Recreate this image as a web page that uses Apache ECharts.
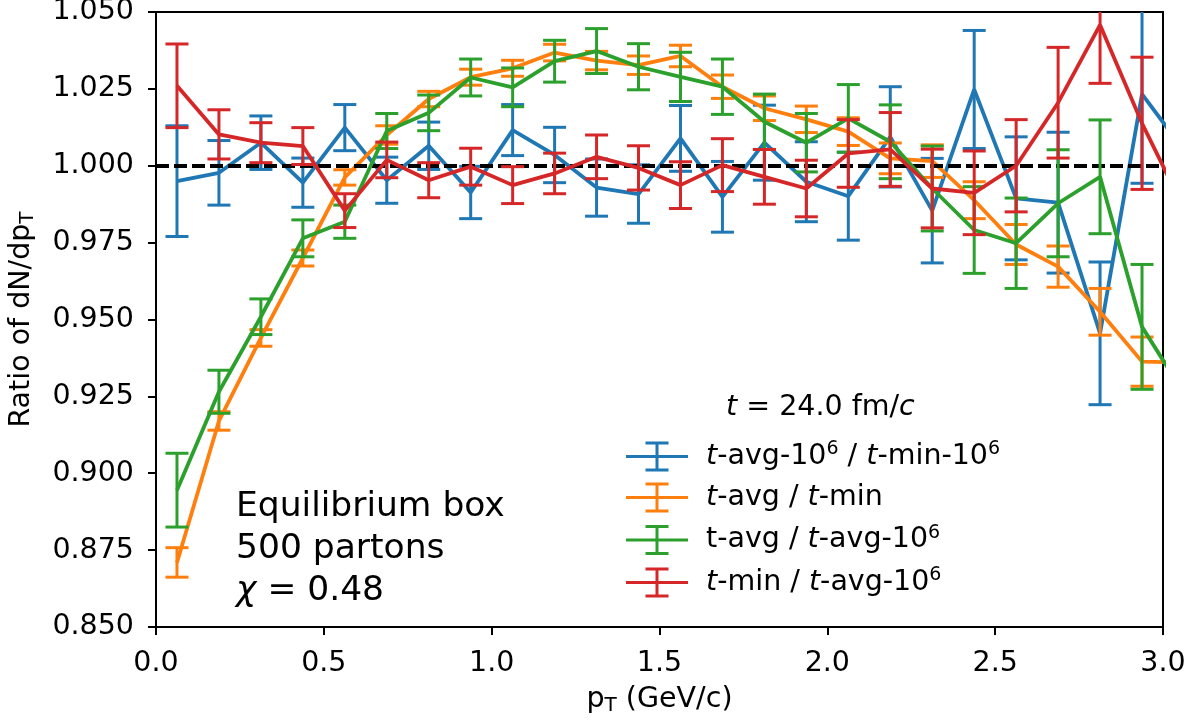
<!DOCTYPE html>
<html>
<head>
<meta charset="utf-8">
<script src="https://cdn.jsdelivr.net/npm/echarts@6/dist/echarts.min.js"></script>
<style>
html,body{margin:0;padding:0;background:#fff;}
#chart{width:1200px;height:721px;}
</style>
</head>
<body>
<div id="chart"></div>
<script>
// bin centres (GeV/c); the last one lies just beyond the axis and is clipped
var pt = [0.0625, 0.1875, 0.3125, 0.4375, 0.5625, 0.6875, 0.8125, 0.9375, 1.0625, 1.1875,
          1.3125, 1.4375, 1.5625, 1.6875, 1.8125, 1.9375, 2.0625, 2.1875, 2.3125, 2.4375,
          2.5625, 2.6875, 2.8125, 2.9375, 3.0625];

var blueVal = [0.9950, 0.9977, 1.0075, 0.9945, 1.0124, 0.9953, 1.0065, 0.9913, 1.0116, 1.0035,
               0.9929, 0.9908, 1.0089, 0.9899, 1.0075, 0.9948, 0.9901, 1.0094, 0.9854, 1.0248,
               0.9894, 0.9880, 0.9455, 1.0233, 1.0050];
var blueErr = [0.0180, 0.0105, 0.0087, 0.0080, 0.0075, 0.0075, 0.0077, 0.0085, 0.0083, 0.0090,
               0.0093, 0.0095, 0.0107, 0.0115, 0.0122, 0.0130, 0.0143, 0.0163, 0.0170, 0.0192,
               0.0200, 0.0229, 0.0232, 0.0290, 0.0300];

var orangeVal = [0.8710, 0.9170, 0.9440, 0.9700, 0.9962, 1.0100, 1.0217, 1.0288, 1.0317, 1.0368,
                 1.0342, 1.0327, 1.0357, 1.0257, 1.0187, 1.0151, 1.0111, 1.0024, 1.0015, 0.9888,
                 0.9744, 0.9672, 0.9525, 0.9363, 0.9360];
var orangeErr = [0.0048, 0.0030, 0.0027, 0.0026, 0.0025, 0.0030, 0.0025, 0.0026, 0.0026, 0.0027,
                 0.0030, 0.0030, 0.0035, 0.0038, 0.0040, 0.0043, 0.0045, 0.0050, 0.0053, 0.0060,
                 0.0065, 0.0067, 0.0076, 0.0080, 0.0080];

var greenVal = [0.8945, 0.9265, 0.9509, 0.9764, 0.9818, 1.0113, 1.0172, 1.0287, 1.0255, 1.0340,
                1.0373, 1.0322, 1.0289, 1.0257, 1.0143, 1.0075, 1.0154, 1.0078, 0.9926, 0.9791,
                0.9748, 0.9878, 0.9964, 0.9476, 0.9260];
var greenErr = [0.0120, 0.0070, 0.0058, 0.0060, 0.0054, 0.0057, 0.0058, 0.0060, 0.0063, 0.0068,
                0.0073, 0.0075, 0.0080, 0.0090, 0.0090, 0.0095, 0.0110, 0.0120, 0.0138, 0.0141,
                0.0147, 0.0174, 0.0185, 0.0203, 0.0210];

var redVal = [1.0260, 1.0102, 1.0075, 1.0064, 0.9854, 1.0019, 0.9953, 0.9997, 0.9937, 0.9975,
              1.0029, 0.9993, 0.9937, 1.0002, 0.9964, 0.9926, 1.0040, 1.0053, 0.9926, 0.9912,
              1.0000, 1.0205, 1.0458, 1.0138, 0.9860];
var redErr = [0.0136, 0.0080, 0.0065, 0.0060, 0.0055, 0.0058, 0.0057, 0.0060, 0.0060, 0.0066,
              0.0071, 0.0072, 0.0076, 0.0086, 0.0089, 0.0092, 0.0110, 0.0120, 0.0128, 0.0136,
              0.0150, 0.0180, 0.0190, 0.0215, 0.0220];

var seriesNames = ['blue', 'orange', 'green', 'red'];
var legendLabels = {
  blue: '{i|t}-avg-10{sup|6} / {i|t}-min-10{sup|6}',
  orange: '{i|t}-avg / {i|t}-min',
  green: 't-avg / {i|t}-avg-10{sup|6}',
  red: '{i|t}-min / {i|t}-avg-10{sup|6}'
};
var colors = {blue: '#1f77b4', orange: '#ff7f0e', green: '#2ca02c', red: '#d62728'};
var vals = {blue: blueVal, orange: orangeVal, green: greenVal, red: redVal};
var errs = {blue: blueErr, orange: orangeErr, green: greenErr, red: redErr};

var xTicks = [0.0, 0.5, 1.0, 1.5, 2.0, 2.5, 3.0];
var yTicks = [0.850, 0.875, 0.900, 0.925, 0.950, 0.975, 1.000, 1.025, 1.050];

var FONT = 'DejaVu Sans';
var FS = 28.5;
var chart = echarts.init(document.getElementById('chart'), null, {renderer: 'canvas'});

function errRender(color) {
  return function (params, api) {
    var x = api.value(0), y = api.value(1), e = api.value(2);
    var lo = api.coord([x, y - e]);
    var hi = api.coord([x, y + e]);
    var cw = 11.5;
    var st = {stroke: color, lineWidth: 3};
    return {
      type: 'group',
      children: [
        {type: 'line', shape: {x1: lo[0], y1: lo[1], x2: hi[0], y2: hi[1]}, style: st},
        {type: 'line', shape: {x1: lo[0] - cw, y1: lo[1], x2: lo[0] + cw, y2: lo[1]}, style: st},
        {type: 'line', shape: {x1: hi[0] - cw, y1: hi[1], x2: hi[0] + cw, y2: hi[1]}, style: st}
      ]
    };
  };
}

var series = [];
seriesNames.forEach(function (n, k) {
  var lineData = pt.map(function (x, i) { return [x, vals[n][i]]; });
  var errData = pt.map(function (x, i) { return [x, vals[n][i], errs[n][i]]; });
  series.push({
    name: n,
    type: 'line',
    data: lineData,
    showSymbol: false,
    symbol: 'none',
    clip: true,
    color: colors[n],
    lineStyle: {color: colors[n], width: 3.8},
    z: 2 + k * 2,
    animation: false
  });
  series.push({
    name: n + '_err',
    type: 'custom',
    data: errData,
    renderItem: errRender(colors[n]),
    clip: true,
    encode: {x: 0, y: 1},
    z: 3 + k * 2,
    animation: false
  });
});
// reference line at ratio = 1
series.push({
  name: 'ref',
  type: 'line',
  data: [],
  z: 20,
  animation: false,
  markLine: {
    silent: true,
    symbol: 'none',
    label: {show: false},
    lineStyle: {color: '#000', width: 4.2, type: [13, 5], opacity: 1},
    emphasis: {disabled: true},
    data: [{yAxis: 1.0}],
    animation: false
  }
});

var errIcon = 'path://M0,13.5 L62,13.5 L62,16.5 L0,16.5 Z M29.5,0 L32.5,0 L32.5,30 L29.5,30 Z M19.5,0 L42.5,0 L42.5,3 L19.5,3 Z M19.5,27 L42.5,27 L42.5,30 L19.5,30 Z';

var option = {
  backgroundColor: '#fff',
  animation: false,
  grid: {left: 156, right: 37, top: 12, bottom: 94, containLabel: false, outerBoundsMode: 'none',
         show: true, borderColor: '#000', borderWidth: 2, backgroundColor: 'transparent'},
  xAxis: {
    type: 'value', min: 0, max: 3, interval: 0.5,
    name: 'p{sub|T} (GeV/c)', nameLocation: 'middle', nameGap: 57,
    nameTextStyle: {fontFamily: FONT, fontSize: FS, color: '#000',
      rich: {sub: {fontFamily: FONT, fontSize: 20, color: '#000', padding: [12, 0, 0, 0]}}},
    axisLine: {show: true, onZero: false, lineStyle: {color: '#000', width: 2}},
    axisTick: {show: true, inside: false, length: 8, lineStyle: {color: '#000', width: 2}},
    axisLabel: {fontFamily: FONT, fontSize: FS, color: '#000', margin: 22,
      formatter: function (v) { return xTicks.indexOf(v) >= 0 ? v.toFixed(1) : ''; }},
    splitLine: {show: false}
  },
  yAxis: {
    type: 'value', min: 0.85, max: 1.05, interval: 0.025,
    name: 'Ratio of dN/dp{sub|T}', nameLocation: 'middle', nameGap: 118, nameRotate: 90,
    nameTextStyle: {fontFamily: FONT, fontSize: FS, color: '#000',
      rich: {sub: {fontFamily: FONT, fontSize: 20, color: '#000', padding: [12, 0, 0, 0]}}},
    axisLine: {show: true, onZero: false, lineStyle: {color: '#000', width: 2}},
    axisTick: {show: true, inside: false, length: 8, lineStyle: {color: '#000', width: 2}},
    axisLabel: {fontFamily: FONT, fontSize: FS, color: '#000', margin: 22,
      formatter: function (v) { return v.toFixed(3); }},
    splitLine: {show: false}
  },
  legend: {
    show: true,
    orient: 'vertical',
    left: 621, top: 435,
    itemWidth: 62, itemHeight: 30, itemGap: 11,
    icon: errIcon,
    selectedMode: false,
    data: seriesNames.map(function (n) {
      return {name: n, icon: errIcon, itemStyle: {color: colors[n]}};
    }),
    formatter: function (name) { return legendLabels[name]; },
    textStyle: {fontFamily: FONT, fontSize: FS, color: '#000', padding: [0, 0, 0, 13],
      rich: {
        i: {fontFamily: FONT, fontSize: FS, fontStyle: 'italic', color: '#000'},
        sup: {fontFamily: FONT, fontSize: 19, color: '#000', padding: [0, 0, 14, 0]}
      }}
  },
  graphic: [
    {type: 'text', left: 726, top: 393, silent: true,
     style: {text: '{i|t} = 24.0 fm/{i|c}', fontFamily: FONT, fontSize: FS, fill: '#000',
       rich: {i: {fontFamily: FONT, fontSize: FS, fontStyle: 'italic', fill: '#000'}}}},
    {type: 'text', left: 236, top: 486, silent: true,
     style: {text: 'Equilibrium box\n500 partons\n{i|χ} = 0.48', fontFamily: FONT, fontSize: 34.5,
       lineHeight: 42, fill: '#000',
       rich: {i: {fontFamily: FONT, fontSize: 34.5, fontStyle: 'italic', lineHeight: 42, fill: '#000'}}}}
  ],
  series: series
};
chart.setOption(option);
</script>
</body>
</html>
